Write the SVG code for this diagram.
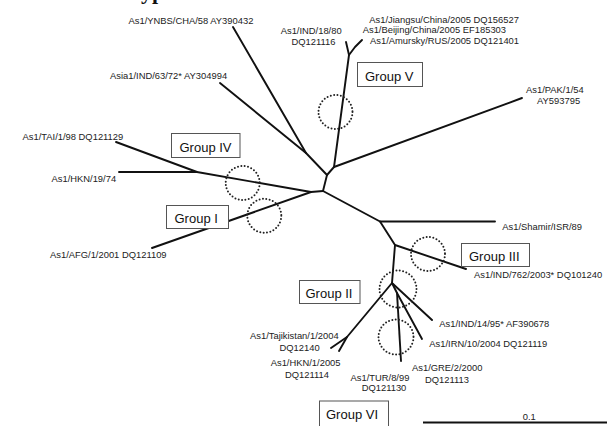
<svg xmlns="http://www.w3.org/2000/svg" width="610" height="426" viewBox="0 0 610 426">
<style>
.t{font-family:"Liberation Sans",Arial,sans-serif;font-size:9.4px;fill:#222}
.g{font-family:"Liberation Sans",Arial,sans-serif;font-size:13px;fill:#111}
.box{fill:#fff;stroke:#555;stroke-width:1}
.br{stroke:#111;stroke-width:1.9;fill:none;stroke-linecap:round;stroke-linejoin:round}
.dc{fill:none;stroke:#222;stroke-width:2;stroke-dasharray:0 3.4;stroke-linecap:round}
</style>
<rect width="610" height="426" fill="#fff"/>
<text x="141" y="-1" font-family="Liberation Serif,serif" font-weight="bold" font-size="22" fill="#111">yp</text>
<g id="connectors" class="br">
<path d="M323,191 L311,192 L197,172 L116,142"/>
<path d="M197,172 L119,172"/>
<path d="M311,192 L152,248"/>
<path d="M323,191 L327,175 L306,153 L233,27"/>
<path d="M306,153 L220,83"/>
<path d="M327,175 L334,167 L349,55 L346,42"/>
<path d="M349,55 L355,47 L362,40"/>
<path d="M334,167 L522,98"/>
<path d="M323,191 L380,221.5 L495,221.5"/>
<path d="M380,221.5 L395,245 L466,269"/>
<path d="M395,245 L392,283 L432,320"/>
<path d="M392,283 L397,293 L422,339"/>
<path d="M397,293 L401,361"/>
<path d="M392,283 L347,337 L331,348"/>
<path d="M347,337 L339,351"/>
</g>
<g id="circles">
<circle class="dc" cx="335.5" cy="112" r="17"/>
<circle class="dc" cx="242.7" cy="183" r="17"/>
<circle class="dc" cx="264.3" cy="215.8" r="17"/>
<circle class="dc" cx="428" cy="254" r="17"/>
<circle class="dc" cx="398" cy="289" r="18.5"/>
<circle class="dc" cx="396" cy="337" r="17.5"/>
</g>
<g id="groupIV"><rect class="box" x="171.5" y="133.5" width="68.5" height="24"/><text class="g" x="179.5" y="151.5">Group IV</text></g>
<g id="groupI"><rect class="box" x="166.5" y="205.5" width="62" height="23"/><text class="g" x="174.5" y="222.5">Group I</text></g>
<g id="groupV"><rect class="box" x="357.5" y="62.5" width="65" height="24"/><text class="g" x="365" y="81">Group V</text></g>
<g id="groupIII"><rect class="box" x="461.5" y="243.5" width="68" height="23"/><text class="g" x="469" y="260.5">Group III</text></g>
<g id="groupII"><rect class="box" x="299.5" y="280.5" width="60.5" height="23"/><text class="g" x="305.5" y="297.5">Group II</text></g>
<g id="groupVI"><rect class="box" x="319.5" y="401" width="69" height="30"/><text class="g" x="326" y="419">Group VI</text></g>
<g id="labels">
<text class="t" x="128.5" y="24">As1/YNBS/CHA/58 AY390432</text>
<text class="t" x="110" y="78.5">Asia1/IND/63/72* AY304994</text>
<text class="t" x="22.5" y="140">As1/TAI/1/98 DQ121129</text>
<text class="t" x="51.5" y="181.5">As1/HKN/19/74</text>
<text class="t" x="50" y="258.3">As1/AFG/1/2001 DQ121109</text>
<text class="t" x="280.7" y="34.3">As1/IND/18/80</text>
<text class="t" x="291.5" y="45">DQ121116</text>
<text class="t" x="369.3" y="22.7">As1/Jiangsu/China/2005 DQ156527</text>
<text class="t" x="362.7" y="33.3">As1/Beijing/China/2005 EF185303</text>
<text class="t" x="370" y="44.3">As1/Amursky/RUS/2005 DQ121401</text>
<text class="t" x="526" y="93.3">As1/PAK/1/54</text>
<text class="t" x="537" y="104.3">AY593795</text>
<text class="t" x="502.3" y="230">As1/Shamir/ISR/89</text>
<text class="t" x="474" y="278.3">As1/IND/762/2003* DQ101240</text>
<text class="t" x="439.3" y="326.7">As1/IND/14/95* AF390678</text>
<text class="t" x="429.3" y="347.3">As1/IRN/10/2004 DQ121119</text>
<text class="t" x="250" y="339.3">As1/Tajikistan/1/2004</text>
<text class="t" x="279.5" y="350.5">DQ12140</text>
<text class="t" x="270.7" y="366">As1/HKN/1/2005</text>
<text class="t" x="285" y="378.3">DQ121114</text>
<text class="t" x="350.5" y="380.5">As1/TUR/8/99</text>
<text class="t" x="361.7" y="390.5">DQ121130</text>
<text class="t" x="412" y="371">As1/GRE/2/2000</text>
<text class="t" x="425" y="382.7">DQ121113</text>
</g>
<g id="scale">
<line x1="423" y1="422.5" x2="607" y2="422.5" stroke="#111" stroke-width="2"/>
<text class="t" x="522.7" y="420">0.1</text>
</g>
</svg>
